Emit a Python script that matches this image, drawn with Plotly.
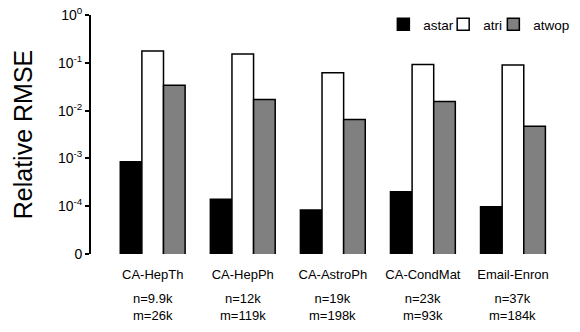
import plotly.graph_objects as go

# Datasets and their sizes
datasets = ["CA-HepTh", "CA-HepPh", "CA-AstroPh", "CA-CondMat", "Email-Enron"]
node_counts = ["n=9.9k", "n=12k", "n=19k", "n=23k", "n=37k"]
edge_counts = ["m=26k", "m=119k", "m=198k", "m=93k", "m=184k"]

# Relative RMSE per estimator
astar = [8.5e-4, 1.4e-4, 8.3e-5, 2.0e-4, 9.7e-5]
atri = [0.176, 0.153, 0.062, 0.092, 0.090]
atwop = [0.034, 0.017, 0.0065, 0.0155, 0.0047]

series = [("astar", astar, "black"), ("atri", atri, "white"), ("atwop", atwop, "#808080")]

# log ticks; the bottom of the axis is shown as "0"
tick_vals = [1e-5, 1e-4, 1e-3, 1e-2, 1e-1, 1]
tick_text = ["0", "10<sup>-4</sup>", "10<sup>-3</sup>", "10<sup>-2</sup>",
             "10<sup>-1</sup>", "10<sup>0</sup>"]

FONT = "Liberation Sans, Arial, sans-serif"
ML, MR = 91, 5
PLOT_W = 580 - ML - MR

# one legend box per series so the entries can sit close together
legend_names = ["legend", "legend2", "legend3"]
legend_left_px = [394, 456, 508]

fig = go.Figure()
for (name, vals, color), lg in zip(series, legend_names):
    fig.add_trace(go.Bar(
        x=datasets, y=vals, name=name, legend=lg,
        marker=dict(color=color, line=dict(color="black", width=1.5)),
    ))

# dataset size lines under each category label
for ds, n, m in zip(datasets, node_counts, edge_counts):
    fig.add_annotation(
        x=ds, xref="x", y=-0.148, yref="paper", yanchor="top",
        text=f"{n}<br>{m}", showarrow=False,
        font=dict(size=13, color="black", family=FONT),
    )

legend_style = dict(
    orientation="h", y=0.96, yanchor="middle", xanchor="left",
    font=dict(size=13.5), bgcolor="rgba(0,0,0,0)", borderwidth=0,
)

fig.update_layout(
    width=580, height=332,
    margin=dict(l=ML, r=MR, t=10, b=78),
    paper_bgcolor="white", plot_bgcolor="white",
    barmode="group", bargap=0.28, bargroupgap=0,
    font=dict(family=FONT, color="black"),
    showlegend=True,
    xaxis=dict(
        range=[-0.685, 4.5], showline=False, ticks="", showgrid=False,
        zeroline=False, tickfont=dict(size=13), ticklabelstandoff=11,
    ),
    yaxis=dict(
        type="log", range=[-5, 0], tickvals=tick_vals, ticktext=tick_text,
        showline=True, linecolor="black", linewidth=2,
        ticks="outside", ticklen=4, tickwidth=2, tickcolor="black",
        showgrid=False, zeroline=False, tickfont=dict(size=14),
        title=dict(text="Relative RMSE", font=dict(size=25), standoff=18),
    ),
)
for lg, px in zip(legend_names, legend_left_px):
    fig.update_layout({lg: dict(legend_style, x=(px - ML) / PLOT_W)})

fig.write_html("out.html")
